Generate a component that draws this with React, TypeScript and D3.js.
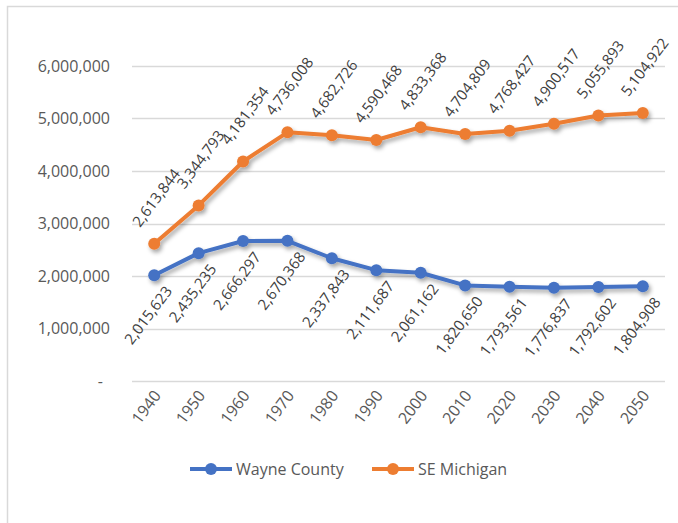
import React, { useEffect, useRef } from "react";
import * as d3 from "d3";

// chart data
const years = ["1940", "1950", "1960", "1970", "1980", "1990", "2000", "2010", "2020", "2030", "2040", "2050"];
const wayneCounty = [2015623, 2435235, 2666297, 2670368, 2337843, 2111687, 2061162, 1820650, 1793561, 1776837, 1792602, 1804908];
const seMichigan = [2613844, 3344793, 4181354, 4736008, 4682726, 4590468, 4833368, 4704809, 4768427, 4900517, 5055893, 5104922];
const yTicks = [0, 1000000, 2000000, 3000000, 4000000, 5000000, 6000000];

const App = () => {
  const svgRef = useRef<SVGSVGElement>(null);

  useEffect(() => {
    const svg = d3.select(svgRef.current);
    svg.selectAll("*").remove();

    const font = "'Open Sans', sans-serif";
    const textColor = "#595959";
    const angle = -53;

    // outer frame
    svg
      .append("rect")
      .attr("x", 7.5)
      .attr("y", 6.5)
      .attr("width", 690)
      .attr("height", 540)
      .attr("fill", "#fff")
      .attr("stroke", "#d9d9d9")
      .attr("stroke-width", 1.5);

    const defs = svg.append("defs");
    defs
      .append("filter")
      .attr("id", "shadow")
      .attr("x", "-20%")
      .attr("y", "-20%")
      .attr("width", "140%")
      .attr("height", "160%")
      .append("feDropShadow")
      .attr("dx", 2)
      .attr("dy", 3)
      .attr("stdDeviation", 2)
      .attr("flood-color", "#000")
      .attr("flood-opacity", 0.35);

    const x = d3.scaleBand().domain(years).range([132, 665]);
    const y = d3.scaleLinear().domain([0, 6000000]).range([381, 66]);
    const cx = (d: string) => (x(d) as number) + x.bandwidth() / 2;

    // gridlines
    svg
      .append("g")
      .selectAll("line")
      .data(yTicks)
      .enter()
      .append("line")
      .attr("x1", 132)
      .attr("x2", 665)
      .attr("y1", (d) => Math.round(y(d)) + 0.5)
      .attr("y2", (d) => Math.round(y(d)) + 0.5)
      .attr("stroke", "#d9d9d9")
      .attr("stroke-width", 1.3);

    // y labels
    svg
      .append("g")
      .selectAll("text")
      .data(yTicks)
      .enter()
      .append("text")
      .attr("x", (d) => (d === 0 ? 103 : 110))
      .attr("y", (d) => y(d))
      .attr("dy", "0.35em")
      .attr("text-anchor", "end")
      .style("font-family", font)
      .style("font-size", "16px")
      .attr("fill", textColor)
      .text((d) => (d === 0 ? "-" : d3.format(",")(d)));

    // x labels
    svg
      .append("g")
      .selectAll("text")
      .data(years)
      .enter()
      .append("text")
      .attr("transform", (d) => `translate(${cx(d) - 8},${407}) rotate(${angle})`)
      .attr("text-anchor", "middle")
      .attr("dy", "0.35em")
      .style("font-family", font)
      .style("font-size", "16px")
      .attr("fill", textColor)
      .text((d) => d);

    const series = [
      { name: "Wayne County", values: wayneCounty, color: "#4472C4", dx: -6, dy: 40 },
      { name: "SE Michigan", values: seMichigan, color: "#ED7D31", dx: 2, dy: -46 },
    ];

    series.forEach((s) => {
      const pts = years.map((yr, i) => ({ yr, v: s.values[i] }));
      const g = svg.append("g").attr("filter", "url(#shadow)");
      g.append("path")
        .datum(pts)
        .attr("fill", "none")
        .attr("stroke", s.color)
        .attr("stroke-width", 4)
        .attr("stroke-linejoin", "round")
        .attr(
          "d",
          d3
            .line<{ yr: string; v: number }>()
            .x((d) => cx(d.yr))
            .y((d) => y(d.v))
        );
      g.selectAll("circle")
        .data(pts)
        .enter()
        .append("circle")
        .attr("cx", (d) => cx(d.yr))
        .attr("cy", (d) => y(d.v))
        .attr("r", 6)
        .attr("fill", s.color);

      svg
        .append("g")
        .selectAll("text")
        .data(pts)
        .enter()
        .append("text")
        .attr("transform", (d) => `translate(${cx(d.yr) + s.dx},${y(d.v) + s.dy}) rotate(${angle})`)
        .attr("text-anchor", "middle")
        .attr("dy", "0.35em")
        .style("font-family", font)
        .style("font-size", "15px")
        .attr("fill", "#404040")
        .text((d) => d3.format(",")(d.v));
    });

    // legend
    const legendItems = [
      { ...series[0], lx: 190 },
      { ...series[1], lx: 372 },
    ];
    legendItems.forEach((s) => {
      const lg = svg.append("g").attr("transform", `translate(${s.lx},469)`);
      lg.append("line")
        .attr("x1", 0)
        .attr("x2", 42)
        .attr("stroke", s.color)
        .attr("stroke-width", 4);
      lg.append("circle").attr("cx", 21).attr("r", 6).attr("fill", s.color);
      lg.append("text")
        .attr("x", 46)
        .attr("dy", "0.35em")
        .style("font-family", font)
        .style("font-size", "16px")
        .attr("fill", textColor)
        .text(s.name);
    });
  }, []);

  return (
    <svg
      ref={svgRef}
      width={678}
      height={523}
      style={{ position: "absolute", left: 0, top: 0, background: "#fff" }}
    />
  );
};

export default App;
